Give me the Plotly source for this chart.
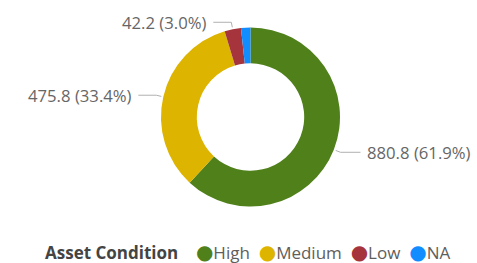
import math
import plotly.graph_objects as go

categories = ["High", "Medium", "Low", "NA"]
values = [880.8, 475.8, 42.2, 24.2]
colors = ["#4F8019", "#DDB400", "#A6343C", "#118DFF"]
show_label = [True, True, True, False]
label_side = ["right", "left", "left", None]
legend_title = "Asset Condition"

W, H = 477, 263
# pie geometry in pixels
cx, cy, R = 250.5, 117.0, 89.5
hole = 0.6

fig = go.Figure()
fig.add_trace(go.Pie(
    labels=categories, values=values, sort=False, direction="clockwise", rotation=0,
    hole=hole, marker=dict(colors=colors, line=dict(width=0)),
    textinfo="none", hoverinfo="label+value+percent", showlegend=False,
    domain=dict(x=[(cx - R) / W, (cx + R) / W], y=[(H - cy - R) / H, (H - cy + R) / H]),
))

def px(x):
    return x / W

def py(y):
    return (H - y) / H

total = sum(values)
cum = 0.0
line_col = "#B0B0B0"
label_col = "#666666"
font_fam = "Open Sans, Noto Sans, sans-serif"
for i, v in enumerate(values):
    a0 = cum / total * 2 * math.pi
    cum += v
    a1 = cum / total * 2 * math.pi
    if not show_label[i]:
        continue
    am = (a0 + a1) / 2
    sx, sy = cx + (R + 2) * math.sin(am), cy - (R + 2) * math.cos(am)
    ex, ey = cx + (R * 1.08) * math.sin(am), cy - (R * 1.08) * math.cos(am)
    if label_side[i] == "right":
        hx = ex + 20
        tx, anchor = hx + 5, "left"
    else:
        hx = ex - 18
        tx, anchor = hx - 4, "right"
    fig.add_shape(type="path", xref="paper", yref="paper",
                  path=f"M {px(sx)} {py(sy)} L {px(ex)} {py(ey)} L {px(hx)} {py(ey)}",
                  line=dict(color=line_col, width=1))
    pct = v / total * 100
    fig.add_annotation(xref="paper", yref="paper", x=px(tx), y=py(ey),
                       text=f"{v:.1f} ({pct:.1f}%)", showarrow=False,
                       xanchor=anchor, yanchor="middle",
                       font=dict(family=font_fam, size=16.7, color=label_col))

# legend row (title + coloured dots)
parts = [f"<span style='color:#444444'><b>{legend_title}</b></span>\u00a0\u00a0\u00a0\u00a0"]
items = []
for name, col in zip(categories, colors):
    items.append(f"<span style=\"color:{col};font-family:'DejaVu Sans';font-size:20px\">\u25cf</span>{name}")
parts.append("\u00a0\u00a0".join(items))
fig.add_annotation(xref="paper", yref="paper", x=px(247.5), y=-0.012, yanchor="bottom",
                   text="".join(parts), showarrow=False, xanchor="center",
                   font=dict(family=font_fam, size=17, color="#605E5C"))

fig.update_layout(
    width=W, height=H, margin=dict(l=0, r=0, t=0, b=0, autoexpand=False),
    paper_bgcolor="white", plot_bgcolor="white", showlegend=False,
)

fig.write_html("out.html", config={"displayModeBar": False},
               post_script="document.body.style.margin='0';document.body.style.padding='0';")
